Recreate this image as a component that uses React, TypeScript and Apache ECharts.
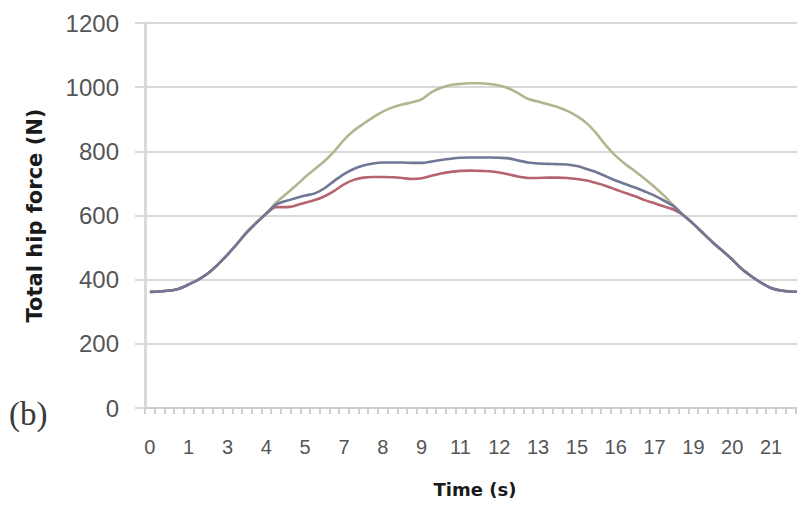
import React, { useEffect, useRef } from "react";
import * as echarts from "echarts";

const times = [
  0, 0.33, 0.67, 1, 1.33, 1.67, 2, 2.33, 2.67, 3, 3.33, 3.67, 4, 4.33, 4.67, 5, 5.33, 5.67,
  6, 6.33, 6.67, 7, 7.33, 7.67, 8, 8.33, 8.67, 9, 9.33, 9.67, 10, 10.33, 10.67, 11, 11.33,
  11.67, 12, 12.33, 12.67, 13, 13.33, 13.67, 14, 14.33, 14.67, 15, 15.33, 15.67, 16, 16.33,
  16.67, 17, 17.33, 17.67, 18, 18.33, 18.67, 19, 19.33, 19.67, 20, 20.33, 20.67, 21, 21.33,
  21.67, 22, 22.33,
];

const seriesRed = [
  362, 363, 366, 372, 385, 400, 420, 447, 478, 512, 548, 578, 606,
  626, 626, 631, 640, 648, 660, 677, 697, 711, 718, 720, 720, 719, 717, 714, 716, 724, 731,
  736, 739, 740, 739, 738, 734, 728, 721, 717, 717, 718, 718, 717, 714, 709, 701, 692, 681,
  670, 660, 648, 638, 628, 618,
  600, 574, 545, 516, 490, 463, 433, 410, 390, 374, 366, 363, 362,
];

const seriesBlue = [
  362, 363, 366, 372, 385, 400, 420, 447, 478, 512, 548, 578, 606,
  634, 645, 654, 662, 669, 685, 708, 729, 745, 756, 762, 765, 765, 765, 764, 764, 768, 773,
  777, 780, 781, 781, 781, 780, 778, 771, 765, 762, 761, 760, 759, 754, 745, 735, 722, 709,
  698, 687, 675, 662, 646, 628,
  600, 574, 545, 516, 490, 463, 433, 410, 390, 374, 366, 363, 362,
];

const seriesTop = [
  362, 363, 366, 372, 385, 400, 420, 447, 478, 512, 548, 578, 606,
  640, 666, 692, 720, 745, 770, 800, 836, 864, 886, 906, 924, 937, 946, 953, 962, 984, 998,
  1007, 1010, 1012, 1012, 1010, 1005, 996, 980, 963, 955, 947, 938, 926, 910, 888, 856, 818,
  786, 760, 738, 714, 689, 661, 630,
  600, 574, 545, 516, 490, 463, 433, 410, 390, 374, 366, 363, 362,
];

const yMin = 0;
const yMax = 1200;
const yStep = 200;

export default function App() {
  const ref = useRef<HTMLDivElement>(null);
  useEffect(() => {
    if (!ref.current) return;
    const chart = echarts.init(ref.current, undefined, { renderer: "svg" });
    const line = (name: string, data: number[], color: string) => ({
      name,
      type: "line",
      data,
      smooth: 0.3,
      showSymbol: false,
      symbol: "none",
      lineStyle: { color, width: 2.6 },
      itemStyle: { color },
    });
    chart.setOption({
      animation: false,
      backgroundColor: "#ffffff",
      grid: { left: 145, right: 0, top: 23, bottom: 98, containLabel: false },
      xAxis: {
        type: "category",
        data: times.map(String),
        boundaryGap: true,
        name: "Time (s)",
        nameLocation: "middle",
        nameGap: 72,
        nameTextStyle: {
          fontFamily: "DejaVu Sans",
          fontWeight: "bold",
          fontSize: 18,
          color: "#1a1a1a",
        },
        axisLine: { show: true, lineStyle: { color: "#cfcfcf", width: 2 } },
        axisTick: {
          show: true,
          interval: 0,
          length: 6,
          lineStyle: { color: "#cfcfcf", width: 2 },
        },
        axisLabel: {
          interval: 3,
          margin: 29,
          fontFamily: "Liberation Sans",
          fontSize: 20,
          color: "#555555",
          formatter: (v: string) => String(Math.round(parseFloat(v))),
        },
        splitLine: { show: false },
      },
      yAxis: {
        type: "value",
        min: yMin,
        max: yMax,
        interval: yStep,
        name: "Total hip force (N)",
        nameLocation: "middle",
        nameGap: 100,
        nameTextStyle: {
          fontFamily: "DejaVu Sans",
          fontWeight: "bold",
          fontSize: 21,
          color: "#1a1a1a",
        },
        axisLine: { show: true, lineStyle: { color: "#d9d9d9", width: 3 } },
        axisTick: { show: true, length: 10, lineStyle: { color: "#d9d9d9", width: 2 } },
        axisLabel: {
          margin: 26,
          fontFamily: "Liberation Sans",
          fontSize: 24,
          color: "#555555",
          formatter: (v: number) => String(v),
        },
        splitLine: { show: true, lineStyle: { color: "#d9d9d9", width: 2 } },
      },
      series: [
        line("Top", seriesTop, "#b3b58f"),
        line("Red", seriesRed, "#b5646e"),
        line("Blue", seriesBlue, "#707896"),
      ],
      graphic: [
        {
          type: "text",
          left: 9,
          top: 397,
          style: {
            text: "(b)",
            font: "33px 'Liberation Serif'",
            fill: "#3a3a3a",
          },
        },
      ],
    });
    return () => chart.dispose();
  }, []);
  return <div ref={ref} style={{ width: 805, height: 506, margin: -8 }} />;
}
